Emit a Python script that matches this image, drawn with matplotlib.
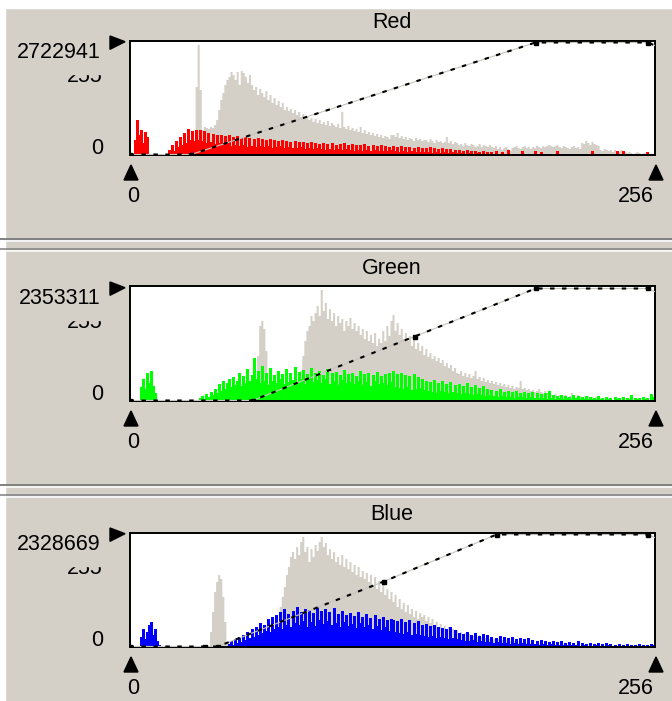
import numpy as np
import matplotlib as mpl
mpl.use("Agg")
import matplotlib.pyplot as plt
from matplotlib.patches import Rectangle, Polygon

# histogram heights (screen pixels, box is ~114 px tall), one value per level 0..255
r_lum = [0]*31 + [10,
    68,110,65,25,28,27,26,28,27,30,35,45,55,62,70,75,
    78,83,80,75,83,70,84,82,78,72,80,70,65,68,60,66,
    62,58,64,55,60,52,57,50,54,48,52,45,48,44,46,42,
    45,40,43,38,41,36,39,35,37,33,36,32,35,31,33,30,
    34,29,32,30,28,31,27,43,28,26,29,25,27,24,26,23,
    28,22,25,21,23,20,22,19,21,18,20,17,19,18,16,20,
    20,18,22,17,19,16,18,15,17,16,14,17,15,16,14,15,
    15,13,16,14,12,15,13,14,12,13,18,12,14,11,13,12,
    10,11,9,12,10,9,11,10,8,9,11,8,10,9,8,10,
    8,7,9,6,8,5,7,8,6,4,7,8,9,7,6,8,
    9,7,8,6,8,7,9,8,7,9,8,9,10,9,8,9,
    10,8,7,9,8,7,6,8,9,7,8,6,12,11,14,12,
    10,13,11,10,9,5,4,6,5,4,5,3,5,4,3,5,
    4,3,2,3,2,1,2,3,2,1,2,1,0,0,0,0]
r_ch = [0,0,15,35,20,25,12,23,18,0,0,0,0,0,0,0,
    0,0,0,5,10,4,14,8,18,10,22,12,26,15,24,14,
    25,15,25,14,24,12,22,13,21,11,20,12,20,10,19,11,
    20,9,18,10,19,9,17,10,18,8,17,9,16,8,17,9,
    16,8,15,9,16,7,15,8,14,9,15,7,14,8,13,7,
    14,7,13,8,13,6,12,7,13,6,12,7,11,6,12,5,
    11,6,12,5,10,6,11,5,12,6,10,5,11,4,10,5,
    10,4,11,5,9,4,10,5,9,4,10,4,9,4,8,5,
    9,4,8,3,9,4,8,3,8,4,7,3,8,3,7,3,
    7,3,8,2,7,3,6,2,7,3,6,2,6,3,5,2,
    5,2,4,0,5,2,4,0,4,2,3,0,4,0,3,0,
    3,0,4,0,0,3,0,0,5,0,0,0,0,0,0,4,
    0,0,0,0,0,4,0,0,3,0,0,0,0,0,0,0,
    4,0,0,0,0,0,0,0,0,0,0,0,0,0,0,0,
    0,4,0,0,0,0,0,0,0,0,0,0,0,4,0,0,
    4,0,0,0,0,0,0,0,0,0,0,0,3,0,0,0]

g_lum = [0]*62 + [45,75,
    80,72,50,5,0,0,0,0,0,0,0,0,0,0,0,0,
    0,0,0,30,45,60,70,75,85,80,88,95,85,111,90,98,
    82,92,80,88,75,85,78,82,70,80,75,83,72,78,70,75,
    66,72,62,70,60,66,58,68,55,62,58,70,60,75,65,80,
    86,70,78,66,72,62,68,60,65,55,62,52,58,50,55,46,
    52,44,48,42,45,40,43,38,41,35,38,33,36,30,33,28,
    27,30,25,28,24,27,23,25,30,22,24,20,23,19,21,18,
    20,17,19,16,18,15,17,14,16,13,15,12,14,13,20,12,
    13,11,12,10,11,9,10,12,9,8,10,8,9,6,5,7,
    5,6,4,5,6,4,5,8,5,4,6,5,4,3,4,5,
    3,4,3,4,3,2,3,2,3,2,2,1,2,3,2,2,
    3,2,1,2,2,1,1,1,0,0,0,0,0,0,0,0]
g_ch = [0,0,0,0,0,14,22,12,28,18,30,15,8,0,0,0] + [0]*16 + [
    0,0,3,5,2,7,4,9,6,12,8,17,10,20,12,18,
    22,14,24,16,20,28,15,25,18,32,20,26,43,22,30,18,
    35,20,28,16,33,20,26,18,30,22,27,17,32,19,28,21,
    34,18,29,22,31,17,27,24,33,19,28,21,30,18,26,22,
    32,17,28,20,29,16,26,21,31,18,27,19,28,17,25,20,
    30,16,27,19,28,15,26,20,29,17,25,18,27,16,28,19,
    30,14,27,13,28,12,26,14,25,11,27,12,24,13,22,11,
    20,10,19,9,21,8,18,10,20,9,17,8,19,9,16,8,
    17,7,15,8,18,7,14,6,16,7,13,6,15,5,12,6,
    11,5,10,4,12,5,9,4,10,4,9,3,10,4,8,4,
    9,3,8,4,9,3,8,3,7,3,8,2,10,3,6,2,
    5,3,6,2,5,3,4,2,6,3,5,2,4,2,5,2,
    4,2,3,2,5,2,3,1,4,2,3,1,4,2,3,1,
    4,1,3,2,6,1,3,2,3,1,4,2,3,1,7,4]

b_lum = [0]*39 + [15,35,55,65,72,68,50,25,5] + [0]*23 + [15,25,40,50,60,72,80,90,95,
    88,100,92,105,110,95,100,85,98,90,102,96,105,110,100,104,
    92,98,88,95,85,90,82,92,80,88,78,85,75,82,72,80,
    70,76,68,74,65,72,62,70,58,66,55,62,52,58,48,55,
    45,52,40,48,38,44,35,42,33,38,30,36,28,34,30,32,
    26,30,24,28,22,25,20,23,19,21,17,20,16,18,15,17,
    14,15,13,14,12,13,12,11,13,10,12,10,11,9,10,8,
    9,8,7,8,6,7,6,7,5,6,5,6,5,4,5,4,
    5,4,3,4,3,3,2,3,2,3,2,2,3,2,2,1,
    2,2,1,2,1,1,2,1,1,1,0,1,1,0,0,0] + [0]*32
b_ch = [0,0,0,0,0,10,18,8,15,22,25,12,18,6,2,0] + [0]*32 + [
    3,6,2,8,4,10,5,12,7,15,9,18,10,20,12,24,
    14,22,16,28,15,30,18,32,20,35,18,38,22,33,20,36,
    24,40,22,35,26,38,20,37,25,34,21,40,27,36,23,38,
    26,35,22,39,24,33,20,36,25,32,21,34,23,31,19,35,
    24,30,20,33,22,29,18,32,21,28,17,30,20,27,16,28,
    27,15,26,14,28,13,25,15,27,12,24,13,26,12,22,11,
    23,10,21,11,22,9,20,10,19,9,18,8,20,9,17,8,
    14,7,13,6,15,6,12,7,14,5,11,6,13,5,12,5,
    10,4,9,5,11,4,10,4,9,3,10,4,8,3,9,4,
    8,3,9,3,7,3,6,2,7,3,6,2,5,3,6,2,
    5,2,6,2,4,2,5,2,4,2,6,1,4,2,3,1,
    4,1,3,2,4,1,3,1,4,2,3,1,2,1,3,1,
    2,1,3,1,2,0,2,1,3,1,2,0,2,1,3,2]

# level curves (control points)
r_curve_x = [0, 30, 198, 253, 256]
r_curve_y = [0, 0, 112, 112, 109]
g_curve_x = [0, 60, 139, 198, 253, 256]
g_curve_y = [0, 0, 64, 112, 112, 109]
b_curve_x = [0, 37, 43, 124, 179, 253, 256]
b_curve_y = [0, 0, 0, 65, 112, 112, 109]

titles = ["Red", "Green", "Blue"]
maxima = ["2722941", "2353311", "2328669"]
mid_label = "255"
in_low, in_high = "0", "256"

BG = "#D4D0C8"
FONT = "Liberation Sans"
FS = 15.5
mpl.rcParams["lines.scale_dashes"] = False


def drawHisto(ax, lum, ch, col, cx, cy):
    edges = np.arange(257)
    lum_steps = np.append(lum, lum[-1])
    ax.fill_between(edges, 0, lum_steps, step="post", color=BG, linewidth=0, zorder=1)
    ch = np.asarray(ch)
    keep = ch > 0
    ax.vlines(np.arange(256)[keep] + 0.5, 0, ch[keep], color=col, lw=0.75,
              antialiased=False, zorder=2)
    ax.plot(cx, cy, color="#C8C4BC", lw=0.8, zorder=4)
    ax.plot(cx, cy, color="black", lw=1.5, dashes=(3.2, 5.4), zorder=5)
    ax.plot(cx[:-1], cy[:-1], ls="none", marker="s", ms=3.5, color="black", zorder=6)
    ax.set_xlim(0, 256)
    ax.set_ylim(0, 114)
    ax.set_xticks([])
    ax.set_yticks([])
    ax.set_facecolor("white")
    for s in ax.spines.values():
        s.set_color("black")
        s.set_linewidth(1.4)


def decorate(bg, i, dy):
    bg.text(392, 23 + dy, titles[i], ha="center", va="center", fontsize=FS, family=FONT)
    bg.text(101, 52 + dy, maxima[i], ha="right", va="center", fontsize=FS, family=FONT)
    bg.text(103, 81.7 + dy, mid_label, ha="right", va="baseline", fontsize=FS, family=FONT)
    bg.add_patch(Rectangle((55, 61 + dy), 53, 12.5, color=BG, zorder=5))
    bg.text(103, 148 + dy, in_low, ha="right", va="center", fontsize=FS, family=FONT)
    bg.add_patch(Polygon([[110, 36 + dy], [110, 49.3 + dy], [125, 41.7 + dy]], color="black"))
    bg.add_patch(Polygon([[131, 165 + dy], [124, 180 + dy], [138, 180 + dy]], color="black"))
    bg.add_patch(Polygon([[656, 165 + dy], [649, 180 + dy], [663, 180 + dy]], color="black"))
    bg.text(133, 196.5 + dy, in_low, ha="center", va="center", fontsize=FS, family=FONT)
    bg.text(654, 196.5 + dy, in_high, ha="right", va="center", fontsize=FS, family=FONT)


##########################################################
##########           Main function   #####################
##########################################################

W, H = 672, 701
fig = plt.figure(figsize=(W / 100, H / 100), dpi=100, facecolor=BG)
bg = fig.add_axes([0, 0, 1, 1], zorder=-1)
bg.set_xlim(0, W)
bg.set_ylim(H, 0)
bg.axis("off")
bg.add_patch(Rectangle((0, 0), W, 8, color="white"))
bg.add_patch(Rectangle((0, 0), 5, H, color="white"))
for y0 in [238.7, 484.8]:
    bg.plot([0, W], [y0, y0], color="#808080", lw=1.4)
    bg.plot([0, W], [y0 + 2, y0 + 2], color="white", lw=1.1)
    bg.plot([0, W], [y0 + 10.5, y0 + 10.5], color="#808080", lw=1.1)
    bg.plot([0, W], [y0 + 12.3, y0 + 12.3], color="white", lw=1.1)

series = [(r_lum, r_ch, "#FF0000", r_curve_x, r_curve_y),
          (g_lum, g_ch, "#00FF00", g_curve_x, g_curve_y),
          (b_lum, b_ch, "#0000FF", b_curve_x, b_curve_y)]
for i, (lum, ch, col, cx, cy) in enumerate(series):
    dy = 246 * i
    left, right, top, bottom = 129.5, 654.5, 40.5 + dy, 154.5 + dy
    ax = fig.add_axes([left / W, 1 - bottom / H, (right - left) / W, (bottom - top) / H])
    drawHisto(ax, lum, ch, col, cx, cy)
    decorate(bg, i, dy)

fig.savefig("out.png", dpi=100, facecolor=BG)
